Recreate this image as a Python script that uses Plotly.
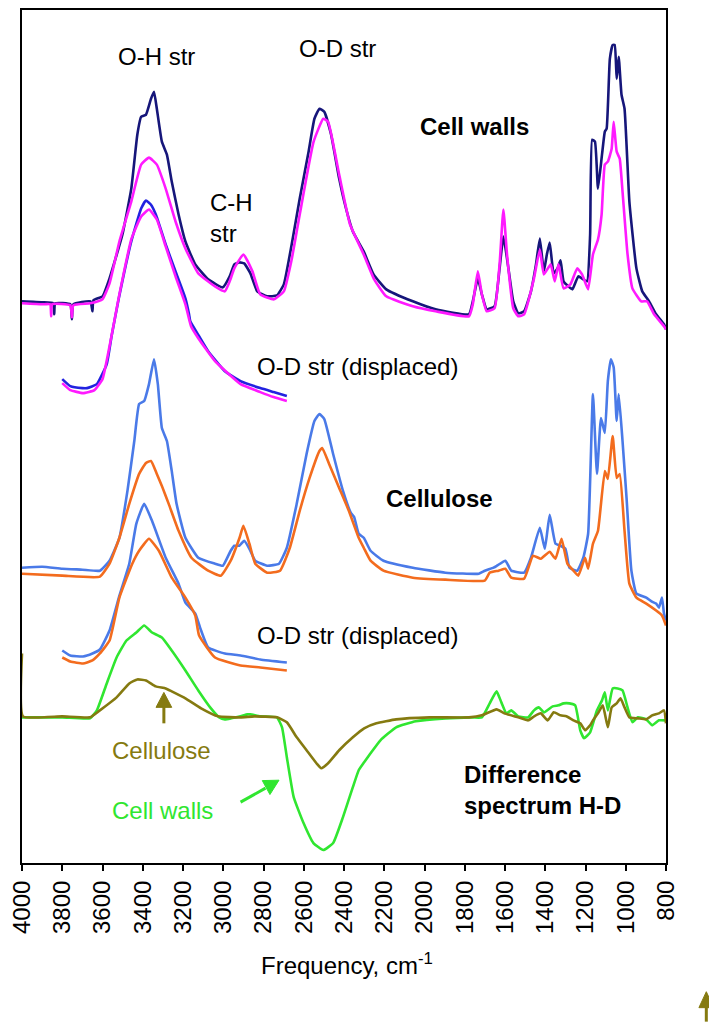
import plotly.graph_objects as go

# spectra: (frequency cm-1, offset intensity in arbitrary units)
cell_walls_h = [(4000, 563), (3900, 562), (3845, 561), (3840, 550), (3835, 561), (3760, 560), (3752, 545),
                (3745, 560), (3660, 563), (3650, 553), (3645, 564), (3600, 568), (3565, 586), (3501, 630),
                (3457, 676), (3427, 730), (3408, 748), (3384, 750), (3359, 766), (3344, 773), (3330, 756),
                (3305, 723), (3280, 710), (3256, 683), (3222, 650), (3188, 623), (3139, 600), (3075, 585),
                (3002, 577), (2968, 588), (2945, 600), (2920, 602), (2896, 601), (2865, 591), (2831, 573),
                (2782, 568), (2733, 569), (2699, 580), (2660, 620), (2620, 666), (2576, 713), (2547, 746),
                (2522, 756), (2498, 753), (2464, 730), (2424, 686), (2390, 656), (2356, 633), (2302, 613),
                (2253, 590), (2190, 575), (2058, 563), (1945, 555), (1779, 550), (1760, 563), (1735, 586),
                (1715, 570), (1691, 555), (1652, 558), (1627, 596), (1608, 628), (1583, 596), (1559, 563),
                (1534, 551), (1505, 553), (1471, 573), (1446, 600), (1427, 626), (1407, 593), (1392, 610),
                (1378, 622), (1358, 591), (1339, 596), (1324, 604), (1309, 583), (1285, 578), (1265, 575),
                (1236, 588), (1211, 585), (1192, 583), (1177, 630), (1167, 725), (1153, 723), (1138, 676),
                (1118, 710), (1104, 733), (1095, 736), (1079, 806), (1065, 820), (1055, 820), (1045, 786),
                (1035, 808), (1021, 770), (1006, 756), (982, 663), (947, 596), (918, 573), (884, 563),
                (849, 550), (810, 540), (800, 535)]

cell_walls_d = [(4000, 561), (3900, 560), (3860, 560), (3855, 548), (3850, 560), (3760, 559), (3752, 547),
                (3745, 559), (3660, 561), (3600, 565), (3565, 581), (3516, 623), (3457, 663), (3408, 700),
                (3369, 707), (3330, 700), (3286, 676), (3237, 643), (3188, 616), (3124, 591), (3041, 578),
                (2992, 573), (2968, 583), (2945, 596), (2900, 610), (2855, 593), (2816, 570), (2748, 565),
                (2699, 573), (2660, 605), (2620, 650), (2551, 723), (2503, 746), (2479, 743), (2424, 690),
                (2370, 640), (2302, 610), (2250, 585), (2190, 568), (2058, 558), (1945, 553), (1779, 548),
                (1760, 560), (1735, 593), (1715, 570), (1691, 553), (1652, 556), (1627, 600), (1608, 655),
                (1590, 610), (1559, 556), (1534, 548), (1505, 550), (1456, 586), (1427, 615), (1407, 590),
                (1373, 600), (1353, 583), (1334, 600), (1309, 576), (1275, 580), (1241, 596), (1217, 590),
                (1187, 575), (1163, 610), (1138, 625), (1120, 650), (1104, 700), (1089, 703), (1070, 716),
                (1060, 743), (1045, 713), (1030, 706), (1016, 673), (991, 610), (967, 576), (923, 563),
                (894, 563), (859, 550), (810, 538), (800, 535)]

cell_walls_h_disp = [(3800, 485), (3760, 478), (3700, 476), (3677, 476), (3628, 480), (3579, 500), (3555, 528),
                     (3520, 565), (3457, 623), (3408, 656), (3384, 664), (3360, 660), (3335, 650), (3286, 620),
                     (3237, 593), (3188, 566), (3170, 550), (3164, 543), (3120, 528), (3075, 513), (2992, 493),
                     (2914, 483), (2816, 476), (2750, 472), (2684, 468)]

cell_walls_d_disp = [(3800, 481), (3760, 474), (3697, 471), (3640, 474), (3600, 485), (3565, 518), (3516, 570),
                     (3457, 625), (3408, 648), (3369, 655), (3330, 645), (3286, 618), (3237, 588), (3188, 560),
                     (3160, 538), (3124, 526), (3041, 503), (2914, 480), (2816, 472), (2750, 467), (2684, 463)]

cellulose_h = [(4000, 296), (3900, 297), (3800, 295), (3700, 294), (3613, 293), (3565, 303), (3516, 326),
               (3476, 373), (3442, 423), (3418, 460), (3393, 463), (3369, 480), (3344, 505), (3325, 480),
               (3305, 436), (3280, 423), (3256, 393), (3232, 360), (3188, 326), (3124, 306), (3041, 300),
               (3002, 298), (2963, 313), (2945, 318), (2920, 318), (2896, 323), (2870, 315), (2841, 303),
               (2782, 298), (2723, 300), (2684, 316), (2635, 360), (2586, 410), (2547, 443), (2522, 450),
               (2498, 445), (2454, 410), (2405, 373), (2366, 351), (2350, 347), (2327, 330), (2302, 326),
               (2268, 313), (2204, 303), (2058, 296), (1896, 291), (1730, 290), (1700, 293), (1657, 296),
               (1640, 298), (1598, 303), (1569, 293), (1505, 291), (1471, 306), (1427, 336), (1402, 315),
               (1378, 349), (1349, 320), (1324, 318), (1300, 315), (1290, 306), (1280, 296), (1241, 293),
               (1211, 306), (1187, 330), (1163, 470), (1143, 390), (1123, 446), (1104, 431), (1089, 483),
               (1074, 505), (1060, 497), (1045, 443), (1035, 470), (1016, 423), (996, 366), (972, 293),
               (947, 270), (898, 266), (870, 262), (849, 260), (835, 256), (820, 266), (810, 250), (800, 243)]

cellulose_d = [(4000, 290), (3800, 288), (3613, 287), (3565, 300), (3516, 326), (3467, 360), (3418, 390),
               (3384, 401), (3359, 403), (3330, 390), (3305, 378), (3271, 360), (3222, 333), (3158, 306),
               (3075, 293), (3012, 288), (2963, 303), (2919, 326), (2900, 338), (2870, 320), (2841, 300),
               (2782, 291), (2718, 293), (2669, 316), (2620, 353), (2571, 386), (2522, 413), (2508, 416),
               (2474, 400), (2424, 376), (2376, 353), (2327, 326), (2302, 316), (2268, 303), (2204, 293),
               (2058, 286), (1896, 284), (1701, 283), (1676, 291), (1632, 293), (1598, 295), (1569, 286),
               (1505, 285), (1461, 308), (1422, 305), (1378, 312), (1349, 305), (1319, 325), (1290, 300),
               (1260, 293), (1236, 288), (1202, 306), (1187, 295), (1163, 320), (1138, 333), (1104, 393),
               (1089, 385), (1065, 428), (1045, 386), (1030, 390), (1006, 333), (982, 280), (947, 266),
               (898, 260), (849, 253), (820, 248), (800, 238)]

cellulose_h_disp = [(3800, 213), (3760, 208), (3697, 207), (3650, 210), (3613, 214), (3565, 233), (3516, 268),
                    (3467, 300), (3432, 340), (3393, 360), (3354, 343), (3286, 306), (3222, 280), (3188, 261),
                    (3139, 250), (3110, 233), (3075, 216), (2992, 210), (2914, 208), (2816, 204), (2684, 201)]

cellulose_d_disp = [(3800, 206), (3760, 202), (3697, 200), (3650, 203), (3613, 210), (3565, 223), (3516, 266),
                    (3452, 300), (3418, 313), (3369, 325), (3320, 313), (3256, 286), (3188, 266), (3139, 248),
                    (3120, 228), (3041, 206), (2914, 198), (2816, 196), (2684, 193)]

diff_cell_walls = [(4000, 146), (3800, 146), (3662, 145), (3628, 153), (3579, 180), (3530, 206), (3481, 223),
                   (3432, 231), (3393, 238), (3354, 231), (3305, 226), (3256, 213), (3188, 193), (3124, 173),
                   (3061, 155), (3020, 146), (2992, 144), (2960, 145), (2914, 147), (2880, 149), (2865, 149),
                   (2816, 147), (2733, 146), (2708, 136), (2684, 106), (2650, 66), (2601, 40), (2552, 20),
                   (2503, 13), (2454, 20), (2405, 46), (2356, 76), (2327, 93), (2300, 101), (2268, 110),
                   (2219, 123), (2141, 136), (2043, 142), (1896, 145), (1764, 146), (1715, 146), (1676, 160),
                   (1642, 172), (1618, 161), (1593, 150), (1569, 153), (1534, 147), (1485, 146), (1456, 153),
                   (1432, 156), (1407, 151), (1363, 157), (1334, 158), (1309, 160), (1280, 160), (1251, 158),
                   (1226, 133), (1207, 125), (1177, 131), (1143, 153), (1118, 163), (1104, 171), (1089, 153),
                   (1065, 175), (1040, 175), (1016, 173), (991, 156), (967, 141), (940, 146), (898, 144),
                   (869, 138), (835, 143), (800, 143)]

diff_cellulose = [(4000, 210), (3995, 147), (3800, 147), (3662, 146), (3613, 153), (3530, 166), (3467, 180),
                  (3427, 184), (3384, 183), (3335, 177), (3286, 175), (3256, 172), (3188, 165), (3110, 155),
                  (3026, 147), (2914, 146), (2846, 147), (2733, 146), (2684, 141), (2635, 126), (2586, 113),
                  (2537, 100), (2513, 95), (2479, 100), (2424, 113), (2356, 126), (2300, 135), (2239, 140),
                  (2141, 144), (1975, 146), (1779, 146), (1715, 148), (1642, 154), (1603, 150), (1534, 146),
                  (1485, 143), (1455, 147), (1422, 150), (1388, 143), (1358, 151), (1324, 148), (1295, 147),
                  (1260, 143), (1226, 140), (1202, 133), (1177, 138), (1163, 143), (1138, 150), (1114, 158),
                  (1089, 136), (1070, 156), (1045, 160), (1026, 165), (1006, 156), (982, 146), (940, 145),
                  (898, 144), (869, 148), (835, 150), (810, 153), (800, 140)]

x_ticks = list(range(4000, 799, -200))

NAVY = "#16167a"
MAGENTA = "#ff1aff"
BLUE = "#2222e0"
CORNFLOWER = "#4a7ae8"
ORANGE = "#f36c1e"
GREEN = "#30e630"
OLIVE = "#857a10"
FONT = "Liberation Sans, Arial, sans-serif"
FS = 24

fig = go.Figure()

series = [
    (cell_walls_h, NAVY), (cell_walls_d, MAGENTA),
    (cell_walls_h_disp, BLUE), (cell_walls_d_disp, MAGENTA),
    (cellulose_h, CORNFLOWER), (cellulose_d, ORANGE),
    (cellulose_h_disp, CORNFLOWER), (cellulose_d_disp, ORANGE),
    (diff_cell_walls, GREEN), (diff_cellulose, OLIVE),
]
for pts, col in series:
    fig.add_trace(go.Scatter(
        x=[p[0] for p in pts], y=[p[1] for p in pts], mode="lines",
        line=dict(color=col, width=2.6, shape="spline", smoothing=0.4),
        showlegend=False, hoverinfo="skip"))

def label(text, x, y, color="black", bold=False, anchor="center"):
    if bold:
        text = "<b>" + text.replace("<br>", "</b><br><b>") + "</b>"
    fig.add_annotation(x=x, y=y, text=text, showarrow=False, xanchor=anchor, yanchor="middle",
                       align="left", font=dict(family=FONT, size=FS, color=color))

label("O-H str", 3330, 808)
label("O-D str", 2434, 816)
label("C-H<br>str", 3075, 647, anchor="left")
label("Cell walls", 1750, 738, bold=True)
label("O-D str (displaced)", 2840, 498, anchor="left")
label("Cellulose", 1926, 365, bold=True)
label("O-D str (displaced)", 2840, 228, anchor="left")
label("Cellulose", 3305, 113, color=OLIVE)
label("Cell walls", 3300, 53, color=GREEN)
label("Difference<br>spectrum H-D", 1813, 73, bold=True, anchor="left")

# arrows drawn as stem + filled head
def arrow(stem, head, color, ref="data"):
    xr, yr = ("paper", "paper") if ref == "paper" else ("x", "y")
    fig.add_shape(type="line", xref=xr, yref=yr, x0=stem[0][0], y0=stem[0][1], x1=stem[1][0], y1=stem[1][1],
                  line=dict(color=color, width=3))
    path = "M {} {} L {} {} L {} {} Z".format(*[v for p in head for v in p])
    fig.add_shape(type="path", xref=xr, yref=yr, path=path, fillcolor=color, line=dict(color=color, width=1))

arrow([(3295, 140), (3295, 158)], [(3334, 156), (3256, 156), (3295, 171)], OLIVE)
arrow([(2914, 61), (2790, 75)], [(2768, 68.6), (2806, 82.6), (2723, 83)], GREEN)
# stray olive arrow below the plot, bottom right
arrow([(1.0626, -0.186), (1.0626, -0.167)], [(1.0511, -0.1696), (1.0741, -0.1696), (1.0626, -0.1509)],
      OLIVE, ref="paper")

fig.add_annotation(xref="paper", yref="paper", x=0.504, y=-0.118, xanchor="center", yanchor="middle",
                   text="Frequency, cm<sup>-1</sup>", showarrow=False,
                   font=dict(family=FONT, size=FS, color="black"))

# the page body adds an 8px offset, so the figure is sized to end at the window edge
fig.update_layout(
    width=709, height=1017,
    margin=dict(l=3, r=51, t=0, b=162),
    paper_bgcolor="white", plot_bgcolor="white",
    xaxis=dict(range=[4000, 800], tickvals=x_ticks, ticktext=[str(v) for v in x_ticks],
               tickangle=-90, ticks="outside", ticklen=6, tickwidth=2, tickcolor="black",
               ticklabeloverflow="allow",
               showline=True, linecolor="black", linewidth=2, mirror=True, showgrid=False,
               zeroline=False, tickfont=dict(family=FONT, size=FS, color="black")),
    yaxis=dict(range=[0, 855], showline=True, linecolor="black", linewidth=2, mirror=True,
               showgrid=False, zeroline=False, showticklabels=False, ticks=""),
)

fig.write_html("out.html")
